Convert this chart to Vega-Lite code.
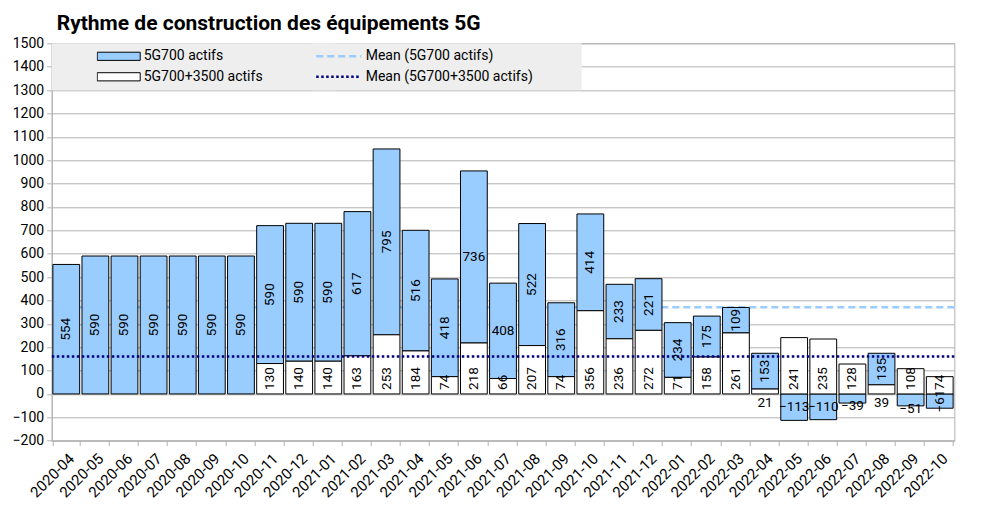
{
  "$schema": "https://vega.github.io/schema/vega-lite/v6.json",
  "autosize": {"type": "none"},
  "padding": {"left": 51.7, "top": 43.3, "right": 30.7, "bottom": 66.3},
  "width": 902.6,
  "height": 397.4,
  "title": {
    "text": "Rythme de construction des équipements 5G",
    "anchor": "start",
    "frame": "group",
    "dx": 5,
    "dy": 3,
    "offset": 5,
    "font": "Roboto",
    "fontSize": 21,
    "fontWeight": "bold",
    "color": "black"
  },
  "config": {
    "font": "Roboto",
    "view": {"stroke": "#b3b3b3"},
    "axis": {
      "labelFont": "Roboto",
      "labelColor": "black",
      "domainColor": "#b3b3b3",
      "tickColor": "#b3b3b3",
      "tickSize": 5,
      "gridColor": "#b3b3b3",
      "title": null
    },
    "axisY": {"labelFontSize": 14, "labelPadding": 3, "format": "d", "tickCount": 17, "labelOverlap": false},
    "axisX": {"labelFontSize": 15}
  },
  "data": {
    "values": [
      {"month": "2020-04", "series": "5G700 actifs", "value": 554},
      {"month": "2020-05", "series": "5G700 actifs", "value": 590},
      {"month": "2020-06", "series": "5G700 actifs", "value": 590},
      {"month": "2020-07", "series": "5G700 actifs", "value": 590},
      {"month": "2020-08", "series": "5G700 actifs", "value": 590},
      {"month": "2020-09", "series": "5G700 actifs", "value": 590},
      {"month": "2020-10", "series": "5G700 actifs", "value": 590},
      {"month": "2020-11", "series": "5G700 actifs", "value": 590},
      {"month": "2020-12", "series": "5G700 actifs", "value": 590},
      {"month": "2021-01", "series": "5G700 actifs", "value": 590},
      {"month": "2021-02", "series": "5G700 actifs", "value": 617},
      {"month": "2021-03", "series": "5G700 actifs", "value": 795},
      {"month": "2021-04", "series": "5G700 actifs", "value": 516},
      {"month": "2021-05", "series": "5G700 actifs", "value": 418},
      {"month": "2021-06", "series": "5G700 actifs", "value": 736},
      {"month": "2021-07", "series": "5G700 actifs", "value": 408},
      {"month": "2021-08", "series": "5G700 actifs", "value": 522},
      {"month": "2021-09", "series": "5G700 actifs", "value": 316},
      {"month": "2021-10", "series": "5G700 actifs", "value": 414},
      {"month": "2021-11", "series": "5G700 actifs", "value": 233},
      {"month": "2021-12", "series": "5G700 actifs", "value": 221},
      {"month": "2022-01", "series": "5G700 actifs", "value": 234},
      {"month": "2022-02", "series": "5G700 actifs", "value": 175},
      {"month": "2022-03", "series": "5G700 actifs", "value": 109},
      {"month": "2022-04", "series": "5G700 actifs", "value": 153},
      {"month": "2022-05", "series": "5G700 actifs", "value": -113},
      {"month": "2022-06", "series": "5G700 actifs", "value": -110},
      {"month": "2022-07", "series": "5G700 actifs", "value": -39},
      {"month": "2022-08", "series": "5G700 actifs", "value": 135},
      {"month": "2022-09", "series": "5G700 actifs", "value": -51},
      {"month": "2022-10", "series": "5G700 actifs", "value": -61},
      {"month": "2020-11", "series": "5G700+3500 actifs", "value": 130},
      {"month": "2020-12", "series": "5G700+3500 actifs", "value": 140},
      {"month": "2021-01", "series": "5G700+3500 actifs", "value": 140},
      {"month": "2021-02", "series": "5G700+3500 actifs", "value": 163},
      {"month": "2021-03", "series": "5G700+3500 actifs", "value": 253},
      {"month": "2021-04", "series": "5G700+3500 actifs", "value": 184},
      {"month": "2021-05", "series": "5G700+3500 actifs", "value": 74},
      {"month": "2021-06", "series": "5G700+3500 actifs", "value": 218},
      {"month": "2021-07", "series": "5G700+3500 actifs", "value": 66},
      {"month": "2021-08", "series": "5G700+3500 actifs", "value": 207},
      {"month": "2021-09", "series": "5G700+3500 actifs", "value": 74},
      {"month": "2021-10", "series": "5G700+3500 actifs", "value": 356},
      {"month": "2021-11", "series": "5G700+3500 actifs", "value": 236},
      {"month": "2021-12", "series": "5G700+3500 actifs", "value": 272},
      {"month": "2022-01", "series": "5G700+3500 actifs", "value": 71},
      {"month": "2022-02", "series": "5G700+3500 actifs", "value": 158},
      {"month": "2022-03", "series": "5G700+3500 actifs", "value": 261},
      {"month": "2022-04", "series": "5G700+3500 actifs", "value": 21},
      {"month": "2022-05", "series": "5G700+3500 actifs", "value": 241},
      {"month": "2022-06", "series": "5G700+3500 actifs", "value": 235},
      {"month": "2022-07", "series": "5G700+3500 actifs", "value": 128},
      {"month": "2022-08", "series": "5G700+3500 actifs", "value": 39},
      {"month": "2022-09", "series": "5G700+3500 actifs", "value": 108},
      {"month": "2022-10", "series": "5G700+3500 actifs", "value": 74}
    ]
  },
  "encoding": {
    "x": {
      "field": "month",
      "type": "ordinal",
      "scale": {"paddingInner": 0.08, "paddingOuter": 0.04},
      "axis": {"labelAngle": -45, "tickBand": "extent", "grid": false, "labelPadding": 5}
    }
  },
  "layer": [
    {
      "transform": [
        {"filter": "datum.series == '5G700 actifs'"},
        {"aggregate": [{"op": "mean", "field": "value", "as": "mean"}]}
      ],
      "mark": {"type": "rule", "strokeWidth": 2.5, "stroke": "#99ccff", "strokeDash": [7, 4]},
      "encoding": {
        "x": null,
        "y": {
          "field": "mean",
          "type": "quantitative",
          "scale": {"domain": [-200, 1500], "nice": false}
        }
      }
    },
    {
      "transform": [
        {"stack": "value", "groupby": ["month"], "sort": [{"field": "series", "order": "descending"}], "as": ["v0", "v1"]}
      ],
      "mark": {"type": "bar", "stroke": "black", "strokeWidth": 1},
      "encoding": {
        "y": {"field": "v0", "type": "quantitative"},
        "y2": {"field": "v1"},
        "fill": {
          "field": "series",
          "type": "nominal",
          "scale": {"domain": ["5G700 actifs", "5G700+3500 actifs"], "range": ["#99ccff", "#ffffff"]},
          "legend": {
            "orient": "none", "legendX": 0, "legendY": 0,
            "title": " ", "titleOrient": "left", "titleFontSize": 1, "titlePadding": 42,
            "padding": 3, "fillColor": "#eeeeee",
            "symbolType": "M-1,-0.19H1V0.19H-1Z", "symbolSize": 1849,
            "symbolStrokeColor": "black", "symbolStrokeWidth": 1,
            "labelFont": "Roboto", "labelFontSize": 14, "labelColor": "black", "labelOffset": 3, "labelLimit": 500,
            "clipHeight": 20, "rowPadding": 0.5,
            "labelExpr": "datum.label + '\u00a0\u00a0\u00a0\u00a0\u00a0\u00a0\u00a0\u00a0\u00a0\u00a0\u00a0\u00a0\u00a0\u00a0\u00a0\u00a0\u00a0\u00a0\u00a0\u00a0\u200b'"
          }
        }
      }
    },
    {
      "transform": [
        {"filter": "datum.series == '5G700+3500 actifs'"},
        {"aggregate": [{"op": "mean", "field": "value", "as": "mean"}]},
        {"calculate": "'Mean (5G700+3500 actifs)'", "as": "line"}
      ],
      "mark": {"type": "rule", "strokeWidth": 2.5},
      "encoding": {
        "x": null,
        "y": {"field": "mean", "type": "quantitative"},
        "stroke": {
          "field": "line",
          "type": "nominal",
          "scale": {"domain": ["Mean (5G700 actifs)", "Mean (5G700+3500 actifs)"], "range": ["#99ccff", "#000080"]},
          "legend": {
            "orient": "none", "legendX": 260, "legendY": 0,
            "title": " ", "titleOrient": "right", "titleFontSize": 1, "titlePadding": 46,
            "padding": 3, "fillColor": "#eeeeee",
            "symbolType": "stroke", "symbolSize": 2025, "symbolStrokeWidth": 2.5,
            "labelFont": "Roboto", "labelFontSize": 14, "labelColor": "black", "labelOffset": 3, "labelLimit": 400,
            "clipHeight": 20, "rowPadding": 0.5
          }
        },
        "strokeDash": {
          "field": "line",
          "type": "nominal",
          "scale": {"domain": ["Mean (5G700 actifs)", "Mean (5G700+3500 actifs)"], "range": [[7, 4], [2.5, 2.5]]},
          "legend": {
            "orient": "none", "legendX": 260, "legendY": 0,
            "title": " ", "titleOrient": "right", "titleFontSize": 1, "titlePadding": 46,
            "padding": 3, "fillColor": "#eeeeee",
            "symbolType": "stroke", "symbolSize": 2025, "symbolStrokeWidth": 2.5,
            "labelFont": "Roboto", "labelFontSize": 14, "labelColor": "black", "labelOffset": 3, "labelLimit": 400,
            "clipHeight": 20, "rowPadding": 0.5
          }
        }
      }
    },
    {
      "transform": [
        {"stack": "value", "groupby": ["month"], "sort": [{"field": "series", "order": "descending"}], "as": ["v0", "v1"]},
        {"filter": "datum.series == '5G700+3500 actifs' && datum.value >= 60"}
      ],
      "mark": {"type": "text", "angle": 270, "align": "left", "baseline": "middle", "dx": 4, "font": "Roboto", "fontSize": 13.5, "color": "black"},
      "encoding": {
        "y": {"field": "v0", "type": "quantitative"},
        "text": {"field": "value", "type": "quantitative"}
      }
    },
    {
      "transform": [
        {"stack": "value", "groupby": ["month"], "sort": [{"field": "series", "order": "descending"}], "as": ["v0", "v1"]},
        {"filter": "datum.series == '5G700+3500 actifs' && datum.value < 60"}
      ],
      "mark": {"type": "text", "align": "center", "baseline": "top", "dy": 2, "font": "Roboto", "fontSize": 13.5, "color": "black"},
      "encoding": {
        "y": {"field": "v0", "type": "quantitative"},
        "text": {"field": "value", "type": "quantitative"}
      }
    },
    {
      "transform": [
        {"stack": "value", "groupby": ["month"], "sort": [{"field": "series", "order": "descending"}], "as": ["v0", "v1"]},
        {"calculate": "(datum.v0 + datum.v1) / 2", "as": "mid"},
        {"filter": "datum.series == '5G700 actifs' && indexof(['2021-06', '2021-07', '2022-05', '2022-06', '2022-07', '2022-09'], datum.month) < 0"}
      ],
      "mark": {"type": "text", "angle": 270, "align": "center", "baseline": "middle", "font": "Roboto", "fontSize": 13.5, "color": "black"},
      "encoding": {
        "y": {"field": "mid", "type": "quantitative"},
        "text": {"field": "value", "type": "quantitative"}
      }
    },
    {
      "transform": [
        {"stack": "value", "groupby": ["month"], "sort": [{"field": "series", "order": "descending"}], "as": ["v0", "v1"]},
        {"calculate": "(datum.v0 + datum.v1) / 2", "as": "mid"},
        {"filter": "datum.series == '5G700 actifs' && indexof(['2021-06', '2021-07', '2022-05', '2022-06'], datum.month) >= 0"}
      ],
      "mark": {"type": "text", "align": "center", "baseline": "middle", "font": "Roboto", "fontSize": 13.5, "color": "black"},
      "encoding": {
        "y": {"field": "mid", "type": "quantitative"},
        "text": {"field": "value", "type": "quantitative"}
      }
    },
    {
      "transform": [
        {"stack": "value", "groupby": ["month"], "sort": [{"field": "series", "order": "descending"}], "as": ["v0", "v1"]},
        {"filter": "datum.series == '5G700 actifs' && indexof(['2022-07', '2022-09'], datum.month) >= 0"}
      ],
      "mark": {"type": "text", "align": "center", "baseline": "middle", "dy": 3, "font": "Roboto", "fontSize": 13.5, "color": "black"},
      "encoding": {
        "y": {"field": "v1", "type": "quantitative"},
        "text": {"field": "value", "type": "quantitative"}
      }
    }
  ]
}
